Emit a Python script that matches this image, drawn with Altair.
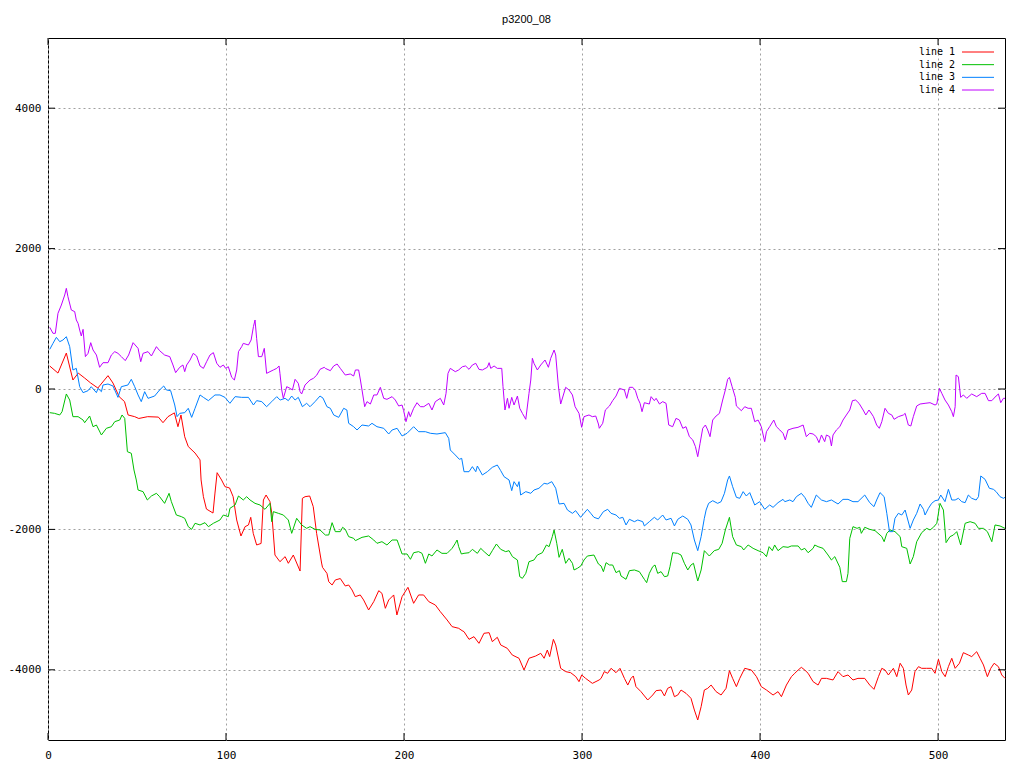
import altair as alt
import pandas as pd

# ---------------- data ----------------
series_names = ["line 1", "line 2", "line 3", "line 4"]
series_colors = ["#ff0000", "#00c000", "#0080ff", "#c000ff"]

x_ticks = [0, 100, 200, 300, 400, 500]
y_ticks = [-4000, -2000, 0, 2000, 4000]

# line 1 (red)
x1 = [1, 5.6, 10.3, 14, 17, 20.6, 24, 28, 33.7, 36.5, 40, 43, 45, 48.7, 51, 56, 62, 64.6, 67.4, 71, 73, 74.7, 76.8,
      78.8, 82.6, 85.4, 86, 87.3, 89, 92.7, 93.8, 95, 97.5, 99.4, 102, 104, 106, 108.4, 110.7, 112.6, 113.9, 115.3,
      117.2, 119.7, 121, 122.5, 124.7, 125.7, 127.5, 130.3, 133.2, 135, 137.8, 141.6, 142.9, 144.4, 147, 149, 150.9,
      153.7, 154.2, 156.7, 157.7, 159.6, 161.4, 164.2, 167, 168.9, 170.8, 172.6, 175.4, 177.3, 180.1, 183, 185.8,
      187.6, 189.5, 191.4, 194.2, 196, 198.9, 202.2, 205.4, 208.2, 211, 213.9, 217.6, 220.4, 224.2, 227, 230.7,
      232.6, 233.7, 236.5, 239.3, 242.1, 244.9, 247.8, 249.6, 252.4, 254.3, 258, 260.8, 264.6, 267.4, 270.2, 274,
      276.8, 278.7, 280.5, 281.8, 283.9, 285.2, 288, 290.8, 293.6, 296.5, 298.3, 299.8, 302, 305.8, 309.6, 310.7,
      312.5, 314.4, 316.3, 319.1, 321.3, 323.8, 325.7, 327.5, 328.8, 330.3, 333.1, 336.9, 339.7, 341.6, 344.4, 346.3,
      348.1, 350, 351.9, 353.8, 355.6, 358.4, 361.2, 363.1, 365, 366.9, 368.7, 370.6, 372.5, 375.3, 378.1, 380.9,
      382.8, 384.6, 386.7, 388.6, 391.4, 395.1, 398, 400.7, 403.6, 407.3, 410.1, 412, 414.8, 417.6, 419.5, 421.4,
      423.2, 425.1, 427, 429.8, 432.6, 434.5, 437.3, 441, 443.8, 446.6, 449.4, 452.2, 455, 458.8, 461.6, 464, 466.5,
      468.4, 470.2, 472.1, 474.9, 476.8, 478.7, 480.5, 482, 483.3, 485.2, 487, 489, 490.8, 493.6, 496.4, 498.3,
      500.2, 502.1, 504, 505.8, 507.7, 509.6, 512, 514.2, 517, 518.9, 521.7, 523.6, 525.5, 527.7, 529.6, 531.5,
      533.9, 535.8, 537.6]
y1 = [327, 227, 512, 128, 227, 156, 85, 14, 190, 85, -110, -180, -370, -394, -420, -394, -400, -480, -394, -340,
      -537, -370, -680, -820, -912, -1010, -1296, -1534, -1710, -1767, -1482, -1192, -1296, -1391, -1410, -1534,
      -1866, -2094, -1961, -1937, -1828, -2056, -2222, -2200, -1581, -1510, -1605, -1767, -2365, -2460, -2388,
      -2483, -2365, -2593, -1557, -1534, -1524, -1676, -2056, -2479, -2540, -2626, -2745, -2792, -2720, -2700,
      -2806, -2792, -2863, -2958, -2934, -3005, -3148, -3029, -2873, -2911, -3124, -3005, -2934, -3219, -2958,
      -2825, -3053, -2934, -2934, -3029, -3077, -3172, -3290, -3385, -3409, -3442, -3457, -3566, -3528, -3623,
      -3480, -3471, -3599, -3537, -3646, -3694, -3789, -3836, -4003, -3836, -3803, -3765, -3836, -3718, -3812,
      -3566, -3646, -3979, -4026, -4041, -4098, -4169, -4074, -4122, -4193, -4145, -4122, -4026, -4050, -3979,
      -4041, -3979, -4122, -4217, -4122, -4088, -4240, -4311, -4430, -4359, -4297, -4288, -4373, -4264, -4240,
      -4383, -4359, -4288, -4335, -4406, -4573, -4715, -4525, -4288, -4264, -4217, -4311, -4359, -4264, -4012,
      -4122, -4240, -4122, -3979, -4003, -4098, -4240, -4288, -4359, -4311, -4383, -4217, -4098, -4050, -4003,
      -3965, -4003, -4050, -4169, -4217, -4122, -4122, -4145, -4026, -4098, -4074, -4145, -4122, -4122, -4217,
      -4278, -4098, -3979, -4003, -4074, -3979, -4098, -3907, -3979, -4217, -4359, -4288, -4026, -3955, -3979,
      -3979, -3979, -4050, -3850, -4026, -4098, -3955, -3836, -3979, -3907, -3756, -3789, -3812, -3742, -3836,
      -3931, -4098, -3979, -3907, -3955, -4074, -4122]

# line 2 (green)
x2 = [1, 3.7, 6.6, 7.9, 10.3, 12.2, 14, 16.9, 19.7, 20.6, 23.4, 25.3, 27.2, 30, 32.8, 35.6, 37.5, 40.3, 41.6, 43.1,
      44.6, 46.8, 48.3, 49.6, 50.6, 53.4, 55.8, 58.1, 60.9, 62.7, 65.5, 68, 69.3, 72.1, 74.9, 76.8, 78.8, 80.7,
      82.6, 85.4, 88.2, 90.1, 92.9, 96.6, 98.5, 101.3, 102.2, 105.1, 107, 109.7, 111.6, 113.5, 116.3, 119.1, 121.9,
      124.7, 125.7, 126.6, 129.4, 132.2, 135, 136.9, 139.7, 142.5, 145.3, 147.2, 150, 152.8, 155.8, 157.7, 159.6,
      161.4, 164.2, 165.5, 167, 168.9, 171.7, 172.7, 176.4, 180.1, 183, 184.8, 187.6, 190.4, 193.3, 196.1, 198.9,
      201.7, 203.6, 205.4, 208.2, 210.1, 212, 213.9, 215.7, 218.5, 221.3, 224.2, 227, 228.8, 229.8, 230.7, 232.2,
      233.7, 236.5, 238.4, 241.2, 243.1, 245, 247.8, 249.6, 251.9, 254.3, 257.1, 259, 260.9, 263.7, 265, 266.5,
      268.4, 270.2, 273, 274.9, 277.7, 280, 281.5, 283.3, 284.3, 285.8, 287.1, 288.9, 290.8, 292.7, 294.6, 295.5,
      297.4, 299.3, 301.1, 303, 306.7, 309.2, 310.7, 312, 313.5, 315.4, 317.2, 319.1, 321, 321.9, 324.7, 326.6,
      329.4, 332.2, 335, 336.3, 337.8, 339.7, 341, 342.5, 344.4, 346.3, 348.1, 349.4, 350.9, 353.7, 355.6, 357.5,
      359.4, 361.2, 362.6, 365, 366.9, 368.7, 371.5, 374.3, 376.8, 378.7, 380.5, 382.8, 384.6, 386.7, 389.5, 390.8,
      393.3, 396.1, 398.9, 401.7, 403.6, 405.1, 406.9, 408.2, 410.1, 412.9, 415.7, 417.6, 421.4, 423.2, 425.1, 427,
      429.8, 430.7, 432.6, 435.4, 438.2, 440.1, 442, 444.8, 446.2, 448.5, 449.4, 450.4, 452.2, 454.5, 456, 456.9,
      458.8, 461.6, 464.6, 467.4, 468.4, 469.7, 471.2, 473, 475.8, 478.7, 479.6, 482.4, 484.3, 486.1, 488, 490.8,
      493.6, 495.5, 497.4, 499.3, 501.1, 503, 504.5, 506.7, 508.6, 510.5, 512.7, 515.2, 518, 520.8, 522.7, 525.5,
      527.7, 530.2, 532, 534.8, 537.6]
y2 = [-337, -347, -370, -323, -71, -157, -394, -394, -442, -480, -385, -537, -513, -655, -560, -537, -465, -442,
      -370, -418, -893, -916, -1154, -1296, -1439, -1462, -1581, -1524, -1486, -1534, -1629, -1486, -1605, -1795,
      -1818, -1842, -1961, -1999, -1913, -1937, -1904, -1961, -1913, -1866, -1795, -1818, -1700, -1652, -1524,
      -1581, -1534, -1581, -1629, -1652, -1714, -1629, -1890, -1747, -1771, -1795, -1866, -2056, -1842, -1937,
      -1985, -1961, -1999, -2008, -2080, -2080, -1904, -2032, -2032, -1970, -1999, -2103, -2127, -2160, -2113,
      -2094, -2151, -2198, -2175, -2222, -2151, -2151, -2350, -2350, -2426, -2332, -2317, -2341, -2483, -2350,
      -2379, -2293, -2341, -2341, -2270, -2198, -2151, -2246, -2350, -2341, -2332, -2284, -2341, -2270, -2317,
      -2379, -2303, -2208, -2284, -2317, -2303, -2388, -2436, -2673, -2697, -2626, -2460, -2436, -2365, -2332,
      -2222, -2246, -2103, -2008, -2198, -2398, -2284, -2483, -2412, -2483, -2578, -2554, -2521, -2436, -2379,
      -2365, -2493, -2521, -2602, -2474, -2507, -2507, -2616, -2588, -2664, -2711, -2588, -2578, -2602, -2711,
      -2759, -2626, -2531, -2507, -2626, -2602, -2673, -2664, -2531, -2332, -2341, -2365, -2483, -2578, -2507,
      -2483, -2735, -2578, -2303, -2379, -2303, -2284, -2198, -2008, -1828, -2103, -2222, -2246, -2293, -2222,
      -2270, -2303, -2332, -2388, -2246, -2303, -2222, -2303, -2246, -2255, -2236, -2236, -2293, -2270, -2332,
      -2270, -2222, -2246, -2270, -2365, -2436, -2388, -2540, -2744, -2744, -2626, -2127, -1961, -1985, -1970,
      -2056, -1970, -1999, -2018, -2080, -2103, -2175, -2056, -2008, -2032, -2103, -2246, -2270, -2493, -2388,
      -2175, -2046, -1985, -2008, -1970, -1913, -1629, -1724, -2189, -2103, -2080, -2032, -2222, -1913, -1890,
      -1913, -1985, -1985, -2032, -2175, -1937, -1951, -1985]

# line 3 (blue)
x3 = [1, 2.8, 4.7, 6.6, 8.4, 10.3, 12.2, 14, 15.9, 17.8, 19.7, 22.5, 24.3, 27.2, 28.1, 30, 30.9, 33.7, 36.5, 39.3,
      41.2, 44.9, 46.8, 48.7, 50.6, 52.4, 54.3, 56.2, 59.9, 62.7, 65, 66.5, 68.9, 71.2, 72.5, 74, 76.8, 78.8, 80.7,
      82.6, 85.4, 87.3, 90.1, 93.8, 96.6, 99.4, 102.2, 105.1, 108.8, 112.6, 115.4, 117.2, 120.1, 122.8, 125.7,
      128.5, 130.4, 133.2, 135, 136.9, 138.8, 140.6, 142.9, 145.3, 147.2, 150, 152.8, 154.5, 156.7, 158.6, 160.5,
      163.3, 166.1, 167.9, 168.9, 171.7, 173.6, 176.4, 180.1, 182, 184.8, 188.6, 191.4, 193.3, 196.1, 198.9, 201.7,
      205.4, 208.2, 212, 214.8, 218.5, 223.2, 225.1, 226, 228.8, 231.1, 232.4, 233.7, 236.5, 238.4, 240.3, 241.2,
      244, 246.8, 249.6, 252.4, 254.3, 256.2, 259, 260.5, 261.8, 263.7, 264.6, 265.5, 268.4, 271.2, 273, 275.8,
      278.7, 280.5, 283, 285.2, 287.1, 289.9, 291.8, 294.6, 296.4, 299.2, 301.1, 303, 304.9, 306.7, 309.2, 312,
      314.4, 316.3, 319.1, 321, 322.9, 324.7, 326.6, 329.4, 331.3, 334.1, 335, 337.8, 340.6, 342.5, 345.3, 347.2,
      350, 351.9, 353.8, 356.6, 359.4, 361.2, 363.1, 365, 366.9, 368.7, 369.7, 371.1, 373.4, 376.2, 378.1, 380,
      381.8, 382.8, 384.6, 386.7, 388.6, 390.5, 392.3, 394.2, 397, 399.8, 402.6, 405.4, 407.3, 410.1, 412.9, 413.9,
      416.7, 418.5, 420.4, 423.2, 425.1, 427, 428.8, 431.6, 434.5, 437.3, 440.1, 443.8, 446.6, 449.4, 452.2, 455,
      458.8, 461.6, 464, 465.5, 467.4, 469.7, 471.2, 472.7, 474.5, 475.8, 477.7, 479.6, 481.5, 484.3, 486.1, 488,
      489.9, 491.8, 492.7, 494.6, 496.4, 498.3, 500.2, 501.5, 503.9, 505.8, 507.7, 509.6, 511.4, 513.3, 515.2, 517,
      518.9, 521.4, 522.7, 524, 526.4, 528.8, 531.1, 532.6, 534.8, 536.7, 537.6]
y3 = [565, 650, 736, 674, 698, 745, 603, 271, 294, 33, -52, -24, 33, -52, 9, -38, 57, 71, 43, -119, 33, 57, 138, 33,
      -85, -180, -38, -133, -100, -14, 43, -14, -24, -228, -394, -347, -337, -275, -404, -275, -85, -119, -166, -85,
      -85, -119, -204, -109, -119, -119, -228, -166, -180, -252, -180, -109, -157, -133, -166, -100, -157, -119,
      -252, -204, -252, -180, -100, -130, -252, -275, -370, -404, -275, -299, -489, -537, -584, -513, -527, -489,
      -537, -560, -641, -584, -560, -669, -631, -537, -608, -608, -631, -641, -622, -703, -869, -940, -1002, -988,
      -1178, -1178, -1106, -1178, -1097, -1225, -1178, -1116, -1083, -1163, -1249, -1296, -1448, -1320, -1391,
      -1320, -1510, -1462, -1486, -1439, -1414, -1344, -1353, -1320, -1414, -1638, -1629, -1724, -1771, -1733,
      -1828, -1771, -1714, -1771, -1828, -1850, -1747, -1714, -1771, -1795, -1842, -1828, -1937, -1856, -1890,
      -1866, -1890, -1951, -1890, -1828, -1866, -1795, -1866, -1842, -1951, -1856, -1809, -1856, -1937, -2151,
      -2303, -2103, -1842, -1724, -1629, -1591, -1629, -1605, -1486, -1296, -1239, -1391, -1543, -1557, -1462,
      -1524, -1476, -1652, -1605, -1714, -1652, -1686, -1619, -1572, -1605, -1581, -1605, -1534, -1486, -1543,
      -1629, -1686, -1510, -1581, -1605, -1581, -1638, -1572, -1572, -1605, -1605, -1510, -1619, -1676, -1581,
      -1476, -1534, -1771, -2032, -2032, -1842, -1771, -1795, -1724, -1985, -1866, -1771, -1638, -1714, -1795,
      -1700, -1629, -1591, -1581, -1510, -1605, -1429, -1581, -1581, -1557, -1605, -1619, -1510, -1557, -1581,
      -1534, -1239, -1287, -1414, -1429, -1462, -1534, -1557, -1543]

# line 4 (purple)
x4 = [1, 2.8, 4.1, 5.6, 7.5, 9.4, 10.3, 11.2, 13.1, 15, 15.9, 16.9, 17.8, 18.7, 19.7, 21, 22.5, 24, 25.3, 27.2, 29,
      30.9, 33.7, 35.6, 37.5, 39.3, 41.2, 43.4, 45.3, 47.8, 50.6, 52.1, 53.4, 56.2, 58.1, 60.9, 62.7, 65.5, 68.4,
      70.2, 71.7, 74, 75.8, 76.8, 77.9, 79.8, 81.6, 83.5, 85.4, 87.3, 89.1, 91, 92.9, 94.8, 96.6, 98.5, 99.8, 101.3,
      103.2, 104.7, 106, 107, 108.8, 109.7, 112.6, 114.1, 115.4, 116.3, 117.2, 118.2, 120.1, 121.5, 122.8, 124.7,
      126.6, 128.5, 129.8, 130.3, 131.3, 132.2, 134.1, 136, 137.3, 138.8, 140.6, 141.6, 142.5, 144.4, 147.2, 149.1,
      151, 152.8, 155.2, 155.8, 158.6, 160.5, 162.4, 164.2, 167, 169.8, 171.7, 172.7, 174.5, 175.5, 176.4, 177.9,
      179.2, 181.1, 183, 184.8, 186.7, 188.6, 190.4, 193.3, 195.1, 197, 198.9, 199.8, 201.1, 202.6, 203.5, 205.4,
      207.3, 209.2, 211.1, 213.9, 215.7, 217.6, 220.4, 222.3, 223.6, 224.7, 226, 228.8, 230.7, 232.8, 234.6, 236.5,
      238.4, 240.3, 242.1, 244, 246.8, 247.8, 248.7, 250.6, 252.4, 254.9, 255.6, 256.7, 258.1, 259, 260.5, 261.8,
      263.7, 265, 266.5, 268.4, 270.2, 271.2, 272.1, 273, 274.9, 276.8, 279.2, 281.1, 282.4, 284.3, 285.2, 286.7,
      288, 290.8, 292.7, 294.6, 296.1, 298.3, 299.8, 301.1, 303.9, 305.8, 307.7, 309.2, 309.7, 311.6, 313.1, 315.4,
      317.2, 319.1, 321, 323.8, 325.1, 326.6, 328.5, 330, 331.3, 332.6, 333.7, 335, 337.8, 338.8, 340.6, 341.6,
      343.5, 345.3, 347.2, 348.7, 350.9, 352.8, 354.7, 356.6, 358.4, 360.3, 362.2, 363.7, 365, 366.3, 367.8, 369.3,
      370.6, 371.9, 373.4, 375.3, 377.2, 379, 380.5, 381.8, 382.8, 384.3, 386.1, 386.7, 389.5, 391.4, 393.3, 395.1,
      397, 398.9, 400.7, 402.6, 403.6, 405.4, 407.7, 409.2, 411.1, 412.9, 414.2, 415.7, 418.5, 421.3, 424.2, 426,
      427.9, 429.8, 431.6, 433.1, 434.5, 436.3, 437.3, 439.1, 440.1, 441, 442.9, 444.8, 446.6, 448.5, 450.4, 451.9,
      453.7, 455.6, 457.9, 459.4, 461.2, 463.1, 463.7, 465.5, 467, 468.4, 470.2, 472.1, 474, 475.3, 477.7, 480.5,
      481.5, 483.3, 484.7, 486.1, 488, 489.9, 492.7, 495.5, 498.3, 499.3, 500.8, 502.1, 503.9, 505.8, 507.7, 508.6,
      509.6, 510.1, 511.4, 512.7, 514.2, 516.1, 518.9, 521.7, 524.5, 526.4, 528.3, 530.2, 532.6, 533.9, 535.2,
      536.7, 537.6]
y4 = [878, 793, 793, 1078, 1196, 1339, 1434, 1315, 1125, 1102, 983, 935, 840, 755, 850, 461, 508, 660, 556, 484, 309,
      375, 375, 484, 532, 508, 461, 404, 484, 660, 579, 389, 508, 532, 470, 603, 546, 484, 461, 342, 233, 309, 342,
      247, 342, 413, 508, 470, 328, 294, 389, 484, 518, 366, 309, 342, 294, 318, 166, 128, 271, 532, 603, 650, 627,
      698, 888, 983, 722, 461, 461, 579, 223, 247, 271, 294, 328, 223, -14, -133, 33, 9, -14, 138, 81, -38, -71,
      57, 128, 152, 199, 280, 309, 294, 261, 328, 356, 294, 199, 214, 185, 271, 271, 128, -14, -252, -180, -214,
      -85, -85, 24, -133, -147, -109, -157, -242, -228, -309, -465, -323, -394, -275, -195, -252, -252, -204,
      -299, -180, -133, -228, -62, 223, 294, 247, 271, 318, 328, 280, 342, 366, 280, 271, 309, 375, 294, 328, 294,
      294, 33, -299, -133, -275, -119, -228, -100, -275, -347, -432, -62, 128, 437, 366, 271, 342, 413, 309, 437,
      555, 484, 43, -214, 24, -14, -85, -252, -347, -546, -394, -370, -394, -385, -499, -560, -489, -299, -242,
      -166, -100, 9, -14, -133, 24, 24, -24, -133, -204, -323, -195, -214, -109, -166, -133, -214, -180, -204,
      -513, -537, -418, -442, -560, -537, -679, -726, -821, -964, -774, -560, -513, -584, -679, -442, -385, -347,
      -157, -14, 138, 166, 33, -119, -242, -309, -252, -275, -275, -465, -442, -537, -750, -608, -537, -442, -537,
      -584, -631, -726, -584, -560, -546, -513, -679, -631, -641, -679, -764, -655, -750, -655, -679, -812, -655,
      -584, -537, -442, -370, -299, -166, -157, -204, -299, -370, -299, -370, -394, -513, -560, -465, -275, -347,
      -370, -432, -394, -370, -347, -513, -527, -394, -242, -214, -204, -195, -228, -214, 9, -62, -157, -228, -323,
      -394, -252, 199, 176, -119, -85, -133, -71, -109, -62, -62, -166, -166, -100, -71, -195, -133, -133]

# ---------------- tables ----------------
rows = []
for name, xs, ys in zip(series_names, [x1, x2, x3, x4], [y1, y2, y3, y4]):
    for i, (xv, yv) in enumerate(zip(xs, ys)):
        rows.append({"series": name, "x": xv, "y": yv, "order": i})
df = pd.DataFrame(rows)

xt = pd.DataFrame({"x": x_ticks})
yt = pd.DataFrame({"y": y_ticks})
leg = pd.DataFrame({"series": series_names})

W, H = 957, 702
TICK = 7
X_MAX = 537.6

xscale = alt.Scale(domain=[0, X_MAX], nice=False, zero=False)
yscale = alt.Scale(domain=[-5000, 5000], nice=False, zero=False)
cscale = alt.Scale(domain=series_names, range=series_colors)

label_font = "DejaVu Sans Mono"
plain_number = "'' + datum.value"

xaxis = alt.Axis(values=x_ticks, grid=True, gridColor="#a0a0a0", gridDash=[2, 3], gridWidth=1,
                 ticks=False, tickSize=0, domain=False, labelPadding=9, labelFont=label_font,
                 labelFontSize=11, labelColor="#000000", labelFlush=False, title=None,
                 labelExpr=plain_number)
yaxis = alt.Axis(values=y_ticks, grid=True, gridColor="#a0a0a0", gridDash=[2, 3], gridWidth=1,
                 ticks=False, tickSize=0, domain=False, labelPadding=7, labelFont=label_font,
                 labelFontSize=11, labelColor="#000000", labelFlush=False, title=None,
                 labelExpr=plain_number)

X = alt.X("x:Q", scale=xscale, axis=xaxis, title=None)
Y = alt.Y("y:Q", scale=yscale, axis=yaxis, title=None)

lines = alt.Chart(df).mark_line(strokeWidth=1, interpolate="linear").encode(
    x=X, y=Y,
    color=alt.Color("series:N", scale=cscale, legend=None),
    order="order:Q",
    detail="series:N",
)

# inward tick marks on all four sides
tick_left = alt.Chart(yt).mark_rule(color="black", strokeWidth=1).encode(
    y=Y, x=alt.value(0), x2=alt.value(TICK))
tick_right = alt.Chart(yt).mark_rule(color="black", strokeWidth=1).encode(
    y=Y, x=alt.value(W - TICK), x2=alt.value(W))
tick_bottom = alt.Chart(xt).mark_rule(color="black", strokeWidth=1).encode(
    x=X, y=alt.value(H - TICK), y2=alt.value(H))
tick_top = alt.Chart(xt).mark_rule(color="black", strokeWidth=1).encode(
    x=X, y=alt.value(0), y2=alt.value(TICK))

main = alt.layer(lines, tick_left, tick_right, tick_bottom, tick_top)

# gnuplot-style key: label then line sample
legy = alt.Y("series:N", scale=alt.Scale(type="point", domain=series_names, range=[14, 52], padding=0),
             axis=None)
leg_text = alt.Chart(leg).mark_text(align="right", baseline="middle", font=label_font, fontSize=10,
                                    color="black").encode(
    y=legy, x=alt.value(907), text="series:N")
leg_line = alt.Chart(leg).mark_rule(strokeWidth=1).encode(
    y=legy, x=alt.value(914), x2=alt.value(946),
    color=alt.Color("series:N", scale=cscale, legend=None))
legend = alt.layer(leg_text, leg_line)

chart = alt.layer(main, legend).resolve_scale(y="independent").properties(
    width=W, height=H,
    title=alt.TitleParams("p3200_08", font="Liberation Sans", fontSize=11, fontWeight="normal",
                          color="black", anchor="middle", baseline="bottom", offset=2),
    padding={"left": 40, "top": 30, "right": 10, "bottom": 20},
    autosize=alt.AutoSizeParams(type="none"),
).configure_view(stroke="black", strokeWidth=1)

chart.save("out.html", embed_options={"renderer": "svg", "actions": False})
